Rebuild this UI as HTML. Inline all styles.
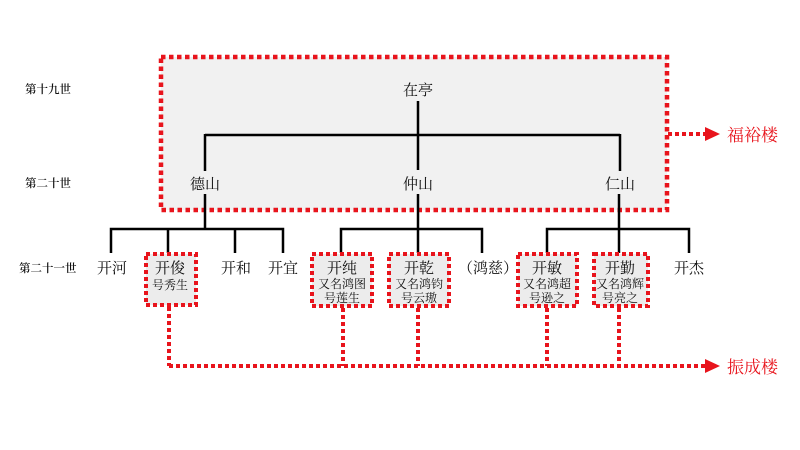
<!DOCTYPE html>
<html><head><meta charset="utf-8"><style>
html,body{margin:0;padding:0;background:#fff;}
svg{display:block;}
text{font-family:"Noto Serif CJK SC","Liberation Serif",serif;fill:#111;}
.n{font-size:15px;text-anchor:middle;}
.s{font-size:12px;text-anchor:middle;}
.g{font-size:11.5px;font-weight:600;}
.r{fill:#e8141c;font-size:17px;}
</style></head><body>
<svg width="800" height="450" viewBox="0 0 800 450" xmlns="http://www.w3.org/2000/svg">
<rect width="800" height="450" fill="#fff"/>
<rect x="161" y="57" width="506" height="153" fill="#f1f1f1" stroke="#e8141c" stroke-width="4.5" stroke-dasharray="4.5 3.5"/>
<text class="g" x="25" y="93">第十九世</text>
<text class="g" x="25" y="187">第二十世</text>
<text class="g" x="19" y="272">第二十一世</text>
<g stroke="#000" stroke-width="2.5" fill="none">
<line x1="418" y1="101" x2="418" y2="170"/>
<line x1="205" y1="135" x2="620" y2="135"/>
<line x1="205" y1="134" x2="205" y2="171"/>
<line x1="620" y1="134" x2="620" y2="171"/>
<line x1="205" y1="194" x2="205" y2="229"/>
<line x1="418" y1="194" x2="418" y2="253"/>
<line x1="619" y1="194" x2="619" y2="253"/>
<polyline points="111,253 111,229 283,229 283,253"/>
<line x1="168" y1="229" x2="168" y2="253"/>
<line x1="235" y1="229" x2="235" y2="253"/>
<polyline points="341,253 341,229 482,229 482,253"/>
<polyline points="547,253 547,229 689,229 689,253"/>
</g>
<text class="n" x="418" y="95">在亭</text>
<text class="n" x="205" y="189">德山</text>
<text class="n" x="418" y="189">仲山</text>
<text class="n" x="620" y="189">仁山</text>
<g fill="#ececec" stroke="#e8141c" stroke-width="4" stroke-dasharray="4 3">
<rect x="146" y="254" width="50" height="51"/>
<rect x="312" y="254" width="60" height="52"/>
<rect x="389" y="254" width="60" height="52"/>
<rect x="518" y="254" width="59" height="52"/>
<rect x="594" y="254" width="54" height="52"/>
</g>
<text class="n" x="112" y="273">开河</text>
<text class="n" x="170" y="273">开俊</text>
<text class="s" x="170" y="289">号秀生</text>
<text class="n" x="236" y="273">开和</text>
<text class="n" x="283" y="273">开宜</text>
<text class="n" x="342" y="273">开纯</text>
<text class="s" x="342" y="288">又名鸿图</text>
<text class="s" x="342" y="302">号莲生</text>
<text class="n" x="419" y="273">开乾</text>
<text class="s" x="419" y="288">又名鸿钧</text>
<text class="s" x="419" y="302">号云璈</text>
<text class="n" x="488" y="273">（鸿慈）</text>
<text class="n" x="547" y="273">开敏</text>
<text class="s" x="547" y="288">又名鸿超</text>
<text class="s" x="547" y="302">号逊之</text>
<text class="n" x="620" y="273">开勤</text>
<text class="s" x="620" y="288">又名鸿辉</text>
<text class="s" x="620" y="302">号亮之</text>
<text class="n" x="689" y="273">开杰</text>
<g stroke="#e8141c" stroke-width="4" stroke-dasharray="4 3" fill="none">
<line x1="668" y1="134" x2="706" y2="134"/>
<line x1="169" y1="307" x2="169" y2="366"/>
<line x1="343" y1="308" x2="343" y2="366"/>
<line x1="418" y1="308" x2="418" y2="366"/>
<line x1="547" y1="308" x2="547" y2="366"/>
<line x1="619" y1="308" x2="619" y2="366"/>
<line x1="169" y1="366" x2="706" y2="366"/>
</g>
<polygon points="705,127 720,134 705,141" fill="#e8141c"/>
<polygon points="705,359 720,366 705,373" fill="#e8141c"/>
<text class="r" x="727" y="141">福裕楼</text>
<text class="r" x="727" y="373">振成楼</text>
</svg>
</body></html>
